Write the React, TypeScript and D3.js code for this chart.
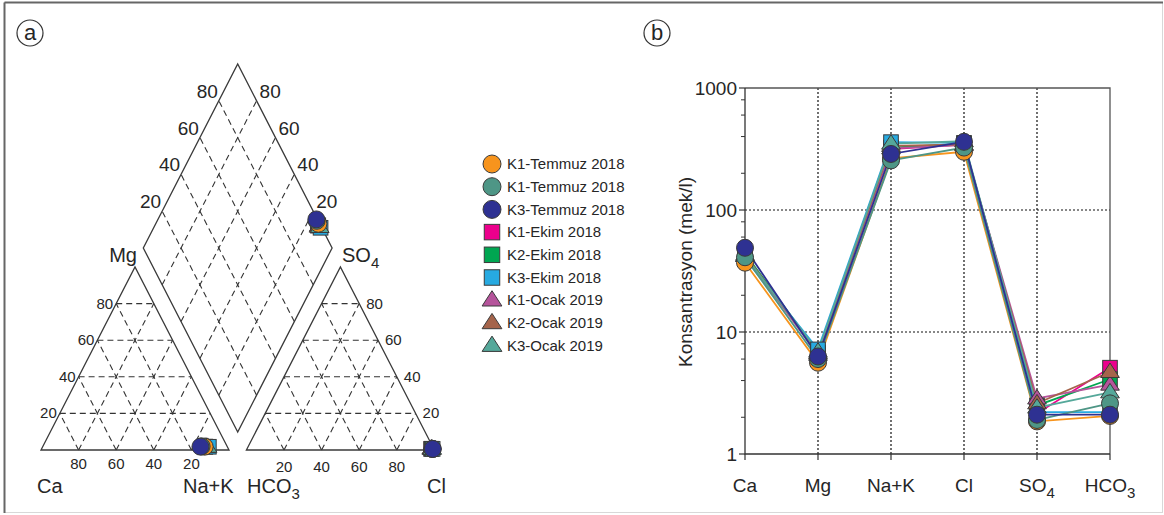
import React from "react";
import * as d3 from "d3";

const W = 1164;
const H = 515;
const FONT = "'Liberation Sans', Arial, sans-serif";
const INK = "#262626";

// ions on the Schoeller axis
const ions = ["Ca", "Mg", "Na+K", "Cl", "SO4", "HCO3"];

// samples
const names = [
  "K1-Temmuz 2018",
  "K1-Temmuz 2018",
  "K3-Temmuz 2018",
  "K1-Ekim 2018",
  "K2-Ekim 2018",
  "K3-Ekim 2018",
  "K1-Ocak 2019",
  "K2-Ocak 2019",
  "K3-Ocak 2019",
];
const colors = ["#F7941D", "#4E9686", "#2E3192", "#EC008C", "#00A651", "#27AAE1", "#B5549B", "#A5644B", "#55A89A"];
const shapes = ["circle", "circle", "circle", "square", "square", "square", "triangle", "triangle", "triangle"];

// concentrations (mek/l)
const ca = [37, 41, 49, 43, 44, 40, 42, 43, 42];
const mg = [5.6, 6.0, 6.3, 6.6, 6.8, 7.2, 6.5, 6.7, 6.9];
const nak = [265, 255, 288, 315, 325, 360, 320, 335, 350];
const cl = [300, 325, 362, 345, 350, 355, 340, 345, 366];
const so4 = [1.85, 1.9, 2.1, 2.15, 2.5, 2.2, 2.85, 2.6, 2.4];
const hco3 = [2.05, 2.6, 2.1, 5.1, 4.1, 2.2, 3.7, 4.7, 3.2];

const yTicks = [1, 10, 100, 1000];
const minorTicks = [2, 4, 6, 8, 20, 40, 60, 80, 200, 400, 600, 800];
const pct = [20, 40, 60, 80];

// draw order: squares, triangles, circles (navy last)
const order = [3, 4, 5, 6, 7, 8, 0, 1, 2];

type P = [number, number];
const mix = (pts: P[], w: number[]): P => [
  d3.sum(pts.map((p, i) => p[0] * w[i])),
  d3.sum(pts.map((p, i) => p[1] * w[i])),
];
const lerp = (a: P, b: P, t: number): P => [a[0] + (b[0] - a[0]) * t, a[1] + (b[1] - a[1]) * t];

function Marker({ shape, x, y, size, fill }: { shape: string; x: number; y: number; size: number; fill: string }) {
  const st = { fill, stroke: "#3a3a3a", strokeWidth: 1 };
  if (shape === "circle") return <circle cx={x} cy={y} r={size / 2} {...st} />;
  if (shape === "square") return <rect x={x - size * 0.43} y={y - size * 0.43} width={size * 0.86} height={size * 0.86} {...st} />;
  const h = size * 0.85;
  return <path d={`M${x},${y - h * 0.62}L${x + size * 0.55},${y + h * 0.38}L${x - size * 0.55},${y + h * 0.38}Z`} {...st} />;
}

// ---------- Piper geometry ----------
const CA: P = [41, 450];
const NAK: P = [229, 450];
const MG: P = [135, 267];
const HCO: P = [246.4, 450];
const CL: P = [434.4, 450];
const SO: P = [340.4, 267];
const DB: P = [237.7, 432];
const DL: P = [143.3, 248];
const DR: P = [332.1, 248];
const DT: P = [DL[0] + DR[0] - DB[0], DL[1] + DR[1] - DB[1]];
const dia = (c: number, a: number): P => [
  DB[0] + c * (DL[0] - DB[0]) + a * (DR[0] - DB[0]),
  DB[1] + c * (DL[1] - DB[1]) + a * (DR[1] - DB[1]),
];

function Piper() {
  const f = pct.map((v) => v / 100);
  const dash = { stroke: "#333", strokeWidth: 1.1, strokeDasharray: "6,4", fill: "none" };
  const solid = { stroke: "#3a3a3a", strokeWidth: 1.3, fill: "none" };
  const seg = (a: P, b: P, k: string) => <line key={k} x1={a[0]} y1={a[1]} x2={b[0]} y2={b[1]} {...dash} />;

  const triGrid = (A: P, B: P, C: P, key: string) =>
    f.flatMap((t) => [
      seg(lerp(A, C, t), lerp(B, C, t), key + "h" + t),
      seg(lerp(B, A, t), lerp(C, A, t), key + "a" + t),
      seg(lerp(A, B, t), lerp(C, B, t), key + "b" + t),
    ]);

  const pts = names.map((_, i) => {
    const tc = ca[i] + mg[i] + nak[i];
    const ta = cl[i] + so4[i] + hco3[i];
    const cat = mix([CA, MG, NAK], [ca[i] / tc, mg[i] / tc, nak[i] / tc]);
    const an = mix([HCO, SO, CL], [hco3[i] / ta, so4[i] / ta, cl[i] / ta]);
    const d = dia((ca[i] + mg[i]) / tc, (so4[i] + cl[i]) / ta);
    return { cat, an, d };
  });

  return (
    <g fontFamily={FONT} fill={INK}>
      {triGrid(CA, NAK, MG, "L")}
      {triGrid(HCO, CL, SO, "R")}
      {f.map((t) => seg(dia(t, 0), dia(t, 1), "dc" + t))}
      {f.map((t) => seg(dia(0, t), dia(1, t), "da" + t))}
      <path d={`M${CA}L${NAK}L${MG}Z`} {...solid} />
      <path d={`M${HCO}L${CL}L${SO}Z`} {...solid} />
      <path d={`M${DB}L${DL}L${DT}L${DR}Z`} {...solid} />

      {/* diamond labels */}
      {pct.map((v) => {
        const p = dia(1, v / 100);
        return (
          <text key={"dl" + v} x={p[0] - 1} y={p[1] - 3} textAnchor="end" fontSize={19}>{v}</text>
        );
      })}
      {pct.map((v) => {
        const p = dia(v / 100, 1);
        return (
          <text key={"dr" + v} x={p[0] + 3} y={p[1] - 3} fontSize={19}>{v}</text>
        );
      })}
      {/* left triangle labels */}
      {pct.map((v) => {
        const p = lerp(CA, MG, v / 100);
        return <text key={"lm" + v} x={p[0] - 3} y={p[1] + 5} textAnchor="end" fontSize={15}>{v}</text>;
      })}
      {pct.map((v) => {
        const p = lerp(NAK, CA, v / 100);
        return <text key={"lc" + v} x={p[0]} y={p[1] + 19} textAnchor="middle" fontSize={15}>{v}</text>;
      })}
      {/* right triangle labels */}
      {pct.map((v) => {
        const p = lerp(CL, SO, v / 100);
        return <text key={"rs" + v} x={p[0] + 7} y={p[1] + 5} fontSize={15}>{v}</text>;
      })}
      {pct.map((v) => {
        const p = lerp(HCO, CL, v / 100);
        return <text key={"rc" + v} x={p[0]} y={p[1] + 22} textAnchor="middle" fontSize={15}>{v}</text>;
      })}

      <text x={137} y={262} textAnchor="end" fontSize={20}>Mg</text>
      <text x={342} y={262} fontSize={20}>SO<tspan dy={6} fontSize={15}>4</tspan></text>
      <text x={37} y={493} fontSize={20}>Ca</text>
      <text x={183} y={493} fontSize={20}>Na+K</text>
      <text x={247} y={493} fontSize={20}>HCO<tspan dy={6} fontSize={15}>3</tspan></text>
      <text x={427} y={493} fontSize={20}>Cl</text>

      {order.map((i) => (
        <g key={"pp" + i}>
          <Marker shape={shapes[i]} x={pts[i].cat[0]} y={pts[i].cat[1]} size={17} fill={colors[i]} />
          <Marker shape={shapes[i]} x={pts[i].an[0]} y={pts[i].an[1]} size={17} fill={colors[i]} />
          <Marker shape={shapes[i]} x={pts[i].d[0]} y={pts[i].d[1]} size={17} fill={colors[i]} />
        </g>
      ))}
    </g>
  );
}

function Legend() {
  const x0 = 492;
  const y0 = 164;
  const step = 22.7;
  return (
    <g fontFamily={FONT} fill={INK}>
      {names.map((n, i) => (
        <g key={"lg" + i}>
          <Marker shape={shapes[i]} x={x0} y={y0 + i * step} size={18} fill={colors[i]} />
          <text x={x0 + 15} y={y0 + i * step} dy="0.35em" fontSize={15}>{n}</text>
        </g>
      ))}
    </g>
  );
}

function Schoeller() {
  const x = d3.scalePoint<string>().domain(ions).range([745, 1110]);
  const y = d3.scaleLog().domain([1, 1000]).range([454, 88]);
  const [x0, x1] = x.range();
  const [yb, yt] = y.range();
  const series = names.map((_, i) => [ca[i], mg[i], nak[i], cl[i], so4[i], hco3[i]]);
  const line = d3
    .line<number>()
    .x((_, j) => x(ions[j]) as number)
    .y((v) => y(v));
  const dot = { stroke: "#111", strokeWidth: 1.2, strokeDasharray: "2,2" };
  const label = (s: string) =>
    s === "SO4" ? (
      <>SO<tspan dy={6} fontSize={15}>4</tspan></>
    ) : s === "HCO3" ? (
      <>HCO<tspan dy={6} fontSize={15}>3</tspan></>
    ) : (
      s
    );
  return (
    <g fontFamily={FONT} fill={INK}>
      {[10, 100].map((t) => (
        <line key={"gy" + t} x1={x0} x2={x1} y1={y(t)} y2={y(t)} {...dot} />
      ))}
      {ions.slice(1, 5).map((s) => (
        <line key={"gx" + s} x1={x(s)} x2={x(s)} y1={yt} y2={yb} {...dot} />
      ))}
      <path d={`M${x0},${yt}H${x1}V${yb}`} fill="none" stroke="#555" strokeWidth={1.3} />
      <path d={`M${x0},${yt}V${yb}H${x1}`} fill="none" stroke="#333" strokeWidth={1.3} />
      {yTicks.map((t) => (
        <g key={"yt" + t}>
          <line x1={x0 - 6} x2={x0} y1={y(t)} y2={y(t)} stroke="#333" strokeWidth={1.2} />
          <text x={x0 - 8} y={y(t)} dy="0.36em" textAnchor="end" fontSize={19}>{t}</text>
        </g>
      ))}
      {minorTicks.map((t) => (
        <line key={"mt" + t} x1={x0 - 4} x2={x0} y1={y(t)} y2={y(t)} stroke="#333" strokeWidth={1} />
      ))}
      {ions.map((s) => (
        <g key={"xt" + s}>
          <line x1={x(s)} x2={x(s)} y1={yb} y2={yb + 6} stroke="#333" strokeWidth={1.2} />
          <text x={x(s)} y={492} textAnchor="middle" fontSize={19}>{label(s)}</text>
        </g>
      ))}
      <text transform={`translate(692,272) rotate(-90)`} textAnchor="middle" fontSize={19}>
        Konsantrasyon (mek/l)
      </text>
      {order.map((i) => (
        <path key={"ln" + i} d={line(series[i]) ?? ""} fill="none" stroke={colors[i]} strokeWidth={1.8} />
      ))}
      {order.map((i) =>
        series[i].map((v, j) => (
          <Marker key={"mk" + i + "_" + j} shape={shapes[i]} x={x(ions[j]) as number} y={y(v)} size={17} fill={colors[i]} />
        ))
      )}
    </g>
  );
}

function Badge({ x, y, t }: { x: number; y: number; t: string }) {
  return (
    <g>
      <circle cx={x} cy={y} r={13} fill="none" stroke="#333" strokeWidth={1.2} />
      <text x={x} y={y} dy="0.33em" textAnchor="middle" fontFamily={FONT} fontSize={22} fill={INK}>{t}</text>
    </g>
  );
}

export default function App() {
  return (
    <svg width={W} height={H} style={{ position: "absolute", left: 0, top: 0, background: "#fff" }}>
      <rect x={4.5} y={2.5} width={1158} height={510} fill="none" stroke="#d8d8d8" strokeWidth={1} />
      <line x1={4.5} y1={2.5} x2={1163} y2={2.5} stroke="#666" strokeWidth={2} />
      <line x1={4.5} y1={2.5} x2={4.5} y2={513} stroke="#666" strokeWidth={2} />
      <Badge x={30} y={33} t="a" />
      <Badge x={657} y={33} t="b" />
      <Piper />
      <Legend />
      <Schoeller />
    </svg>
  );
}
